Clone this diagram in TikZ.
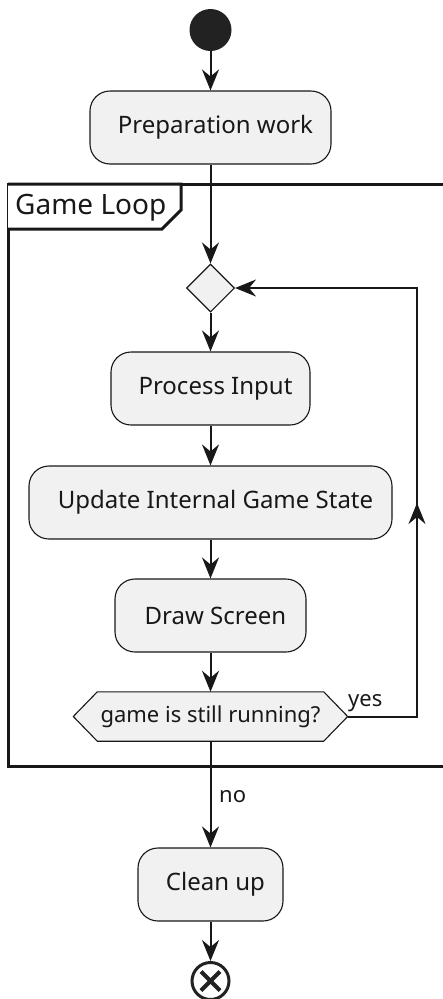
\documentclass[tikz,border=0pt]{standalone}
\usepackage{fontspec}
\setmainfont{Noto Sans}
\usetikzlibrary{arrows.meta,calc,shapes.geometric}
\definecolor{boxfill}{HTML}{F1F1F1}
\definecolor{ink}{HTML}{181818}
\definecolor{dot}{HTML}{222222}
\begin{document}
\begin{tikzpicture}[x=1pt,y=-1pt,
  actbox/.style={draw=ink,line width=1.1pt,fill=boxfill,rounded corners=20pt,
    minimum height=73pt,inner sep=0pt,font=\fontsize{24}{28}\selectfont,text=ink},
  flow/.style={draw=ink,line width=2pt,-{Stealth[length=21pt,width=17pt,inset=7pt]}},
  lbl/.style={font=\fontsize{22}{26}\selectfont,text=ink,inner sep=0pt}]
\useasboundingbox (0,0) rectangle (443,999);
% start
\node (start) [circle,fill=dot,minimum size=42pt,inner sep=0pt] at (210.5,30) {};
\node (prep) [actbox,minimum width=241pt] at (210.5,127.5) {\hspace*{10pt}Preparation work};
% frame
\draw[ink,line width=3pt] (8,184) rectangle (460,766);
\draw[ink,line width=3pt,fill=white] (8,184) -- (181,184) -- (181,210) -- (162,229) -- (8,229);
\node (title) [anchor=west,inner sep=0pt,font=\fontsize{28}{32}\selectfont,text=ink] at (15,208) {Game Loop};
% merge diamond
\node (merge) [diamond,draw=ink,line width=1.1pt,fill=boxfill,minimum size=48pt,inner sep=0pt,aspect=1] at (210.5,288) {};
\node (proc) [actbox,minimum width=199pt] at (210.5,388.5) {\hspace*{10pt}Process Input};
\node (upd) [actbox,minimum width=363pt] at (210.5,502.5) {\hspace*{10pt}Update Internal Game State};
\node (drawsc) [actbox,minimum width=191pt] at (210.5,615.5) {\hspace*{10pt}Draw Screen};
% decision hexagon
\node (dec) [minimum width=274pt,minimum height=49pt,inner sep=0pt] at (210.5,716.5) {};
\draw[ink,line width=1.1pt,fill=boxfill] (dec.west) -- ($(dec.north west)+(24,0)$) -- ($(dec.north east)+(-24,0)$)
  -- (dec.east) -- ($(dec.south east)+(-24,0)$) -- ($(dec.south west)+(24,0)$) -- cycle;
\node (dectext) at (dec) [font=\fontsize{22}{26}\selectfont,text=ink,inner sep=0pt] {game is still running?};
\node (clean) [actbox,minimum width=145pt] at (210.5,884.5) {\hspace*{10pt}Clean up};
\node (stop) [circle,draw=dot,line width=3pt,fill=white,minimum size=37pt,inner sep=0pt] at (210.5,981) {};
\draw[dot,line width=4pt] ($(stop)+(-9.5,-9.5)$) -- ($(stop)+(9.5,9.5)$) ($(stop)+(-9.5,9.5)$) -- ($(stop)+(9.5,-9.5)$);
% connectors
\draw[flow] (start) -- (prep);
\draw[flow] (prep) -- (merge);
\draw[flow] (merge) -- (proc);
\draw[flow] (proc) -- (upd);
\draw[flow] (upd) -- (drawsc);
\draw[flow] (drawsc) -- (dec.north);
\coordinate (loopA) at (417,716.5);
\coordinate (loopB) at (417,288);
\draw[flow] (dec.east) -- (loopA) -- (loopB) -- (merge.east);
\draw[flow] (loopA) -- (417,503);
\node (yes) [lbl,anchor=south west] at (348,712) {yes};
\draw[flow] (dec.south) -- (clean);
\node (no) [lbl,anchor=west] at (219,797) {no};
\draw[flow] (clean) -- (stop);
\end{tikzpicture}
\end{document}
